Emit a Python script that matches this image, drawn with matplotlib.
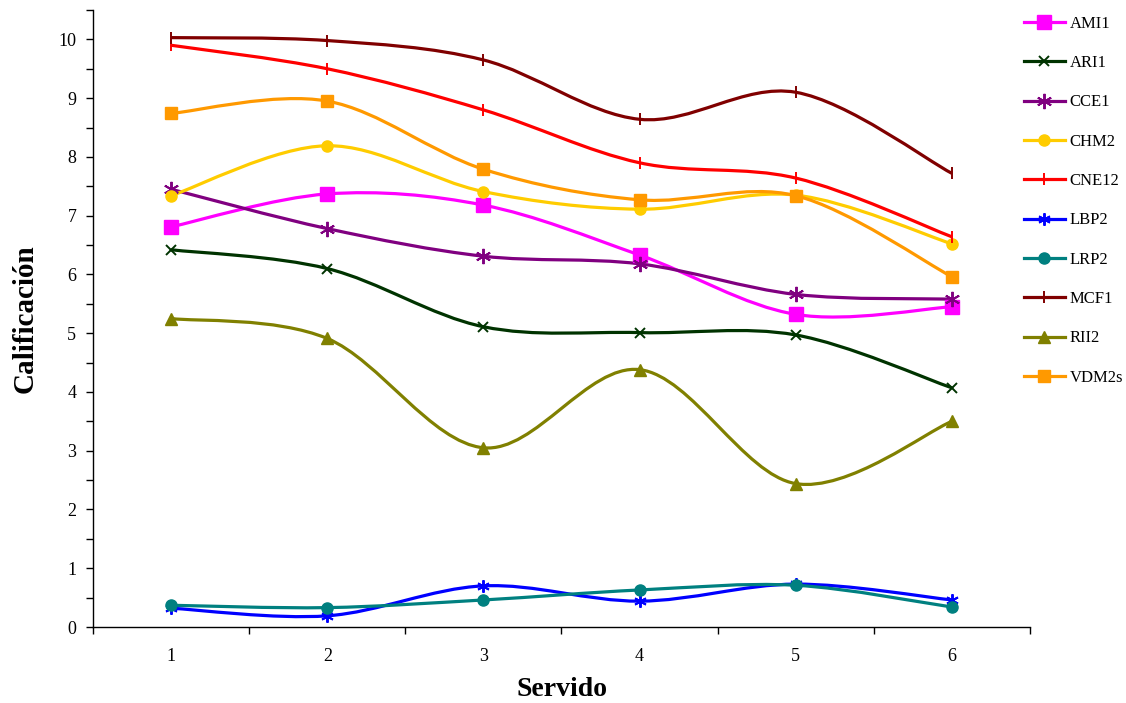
import numpy as np
import matplotlib.pyplot as plt
from matplotlib.path import Path
from matplotlib.patches import PathPatch
from matplotlib.lines import Line2D
from matplotlib.ticker import MultipleLocator, FixedLocator

plt.rcParams['font.family'] = ['Liberation Serif', 'DejaVu Serif']

servido = [1, 2, 3, 4, 5, 6]

ami1 = [6.81, 7.37, 7.18, 6.33, 5.32, 5.45]
ari1 = [6.42, 6.10, 5.11, 5.01, 4.97, 4.07]
cce1 = [7.45, 6.78, 6.31, 6.18, 5.66, 5.58]
chm2 = [7.34, 8.19, 7.41, 7.11, 7.35, 6.52]
cne12 = [9.90, 9.50, 8.80, 7.90, 7.64, 6.64]
lbp2 = [0.32, 0.19, 0.70, 0.44, 0.73, 0.46]
lrp2 = [0.37, 0.33, 0.46, 0.63, 0.71, 0.34]
mcf1 = [10.03, 9.98, 9.65, 8.64, 9.10, 7.72]
rii2 = [5.25, 4.91, 3.05, 4.38, 2.44, 3.50]
vdm2s = [8.74, 8.95, 7.79, 7.27, 7.34, 5.96]

series = [
    ("AMI1", ami1, "#FF00FF", "s", 10),
    ("ARI1", ari1, "#003300", "x", 7),
    ("CCE1", cce1, "#800080", (6, 2, 0), 11),
    ("CHM2", chm2, "#FFCC00", "o", 8),
    ("CNE12", cne12, "#FF0000", "|", 9),
    ("LBP2", lbp2, "#0000FF", (6, 2, 0), 9),
    ("LRP2", lrp2, "#008080", "o", 8),
    ("MCF1", mcf1, "#800000", "|", 9),
    ("RII2", rii2, "#808000", "^", 8),
    ("VDM2s", vdm2s, "#FF9900", "s", 8),
]


def smooth_path(x, y):
    # excel-like smoothed line: bezier segments with catmull-rom control points
    pts = list(zip(x, y))
    verts = [pts[0]]
    codes = [Path.MOVETO]
    n = len(pts)
    for i in range(n - 1):
        p0 = pts[i - 1] if i > 0 else pts[i]
        p1 = pts[i]
        p2 = pts[i + 1]
        p3 = pts[i + 2] if i + 2 < n else pts[i + 1]
        c1 = (p1[0] + (p2[0] - p0[0]) / 6, p1[1] + (p2[1] - p0[1]) / 6)
        c2 = (p2[0] - (p3[0] - p1[0]) / 6, p2[1] - (p3[1] - p1[1]) / 6)
        verts += [c1, c2, p2]
        codes += [Path.CURVE4] * 3
    return Path(verts, codes)


fig = plt.figure(figsize=(11.26, 7.03), dpi=100)
ax = fig.add_axes([93 / 1126, 76 / 703, (1030 - 93) / 1126, (627 - 10) / 703])

handles = []
for name, vals, col, mk, ms in series:
    ax.add_patch(PathPatch(smooth_path(servido, vals), facecolor="none",
                           edgecolor=col, lw=2.3, zorder=2))
    mew = 1.4 if mk in ("x", "|", (6, 2, 0)) else 1
    ax.plot(servido, vals, ls="none", marker=mk, ms=ms, color=col,
            mec=col, mew=mew, zorder=3)
    handles.append(Line2D([], [], color=col, lw=2.3, marker=mk, ms=ms,
                          mec=col, mew=mew, label=name))

ax.set_xlim(0.5, 6.5)
ax.set_ylim(0, 10.5)
for s in ("top", "right"):
    ax.spines[s].set_visible(False)
ax.spines["left"].set_linewidth(1)
ax.spines["bottom"].set_linewidth(1)

ax.yaxis.set_major_locator(MultipleLocator(1))
ax.yaxis.set_minor_locator(MultipleLocator(0.5))
ax.set_yticks(range(0, 11))
ax.tick_params(axis="y", which="both", direction="out", length=5, width=1,
               labelsize=13, pad=7)

ax.set_xticks(servido)
ax.set_xticklabels([str(v) for v in servido])
ax.xaxis.set_minor_locator(FixedLocator(np.arange(0.5, 7, 1)))
ax.tick_params(axis="x", which="major", length=0, labelsize=13, pad=15)
ax.tick_params(axis="x", which="minor", direction="out", length=5, width=1)

ax.set_xlabel("Servido", fontsize=20, fontweight="bold", labelpad=9)
ax.set_ylabel("Calificación", fontsize=21, fontweight="bold", labelpad=14)

fig.legend(handles=handles, loc="upper left", bbox_to_anchor=(1017 / 1126, 1 - 9 / 703),
           frameon=False, fontsize=12, handlelength=2.5, handletextpad=0.25,
           labelspacing=1.4, borderaxespad=0)

fig.savefig("out.png", dpi=100)
